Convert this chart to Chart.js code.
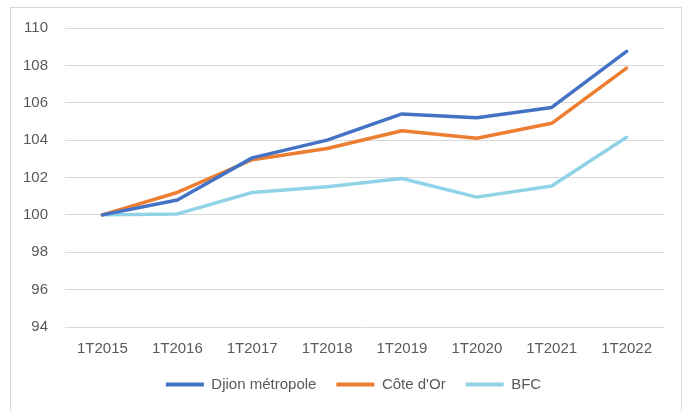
<!DOCTYPE html>
<html>
<head>
<meta charset="utf-8">
<script src="https://cdn.jsdelivr.net/npm/chart.js@4"></script>
<style>
  html, body { margin: 0; padding: 0; background: #fff; }
  #cadre { position: absolute; left: 10px; top: 7px; width: 672px; height: 420px; border: 1px solid #d9d9d9; border-bottom: none; box-sizing: border-box; }
  #zone { position: absolute; left: 0; top: 0; width: 689px; height: 411px; }
</style>
</head>
<body>
<div id="cadre"></div>
<div id="zone"><canvas id="graphique" width="689" height="411"></canvas></div>
<script>
// Trimestres
const trimestres = ["1T2015", "1T2016", "1T2017", "1T2018", "1T2019", "1T2020", "1T2021", "1T2022"]

// Indices (base 100 au 1T2015)
const dijonMetropole = [100, 100.8, 103.05, 104.0, 105.4, 105.2, 105.75, 108.75]
const coteDOr = [100, 101.2, 102.95, 103.55, 104.5, 104.1, 104.9, 107.85]
const bfc = [100, 100.05, 101.2, 101.5, 101.95, 100.95, 101.55, 104.15]

const police = "'Liberation Sans', Arial, sans-serif"
const grisTexte = "#595959"

function serie(nom, valeurs, couleur) {
  return {
    label: nom,
    data: valeurs,
    borderColor: couleur,
    backgroundColor: couleur,
    borderWidth: 3.5,
    pointRadius: 0,
    pointHoverRadius: 0,
    tension: 0,
    borderCapStyle: "round",
    borderJoinStyle: "round"
  }
}

const ctx = document.getElementById("graphique").getContext("2d")
const chart = new Chart(ctx, {
  type: "line",
  data: {
    labels: trimestres,
    datasets: [
      serie("Djion métropole", dijonMetropole, "#4472c4"),
      serie("Côte d'Or", coteDOr, "#ed7d31"),
      serie("BFC", bfc, "#91d3e6")
    ]
  },
  options: {
    responsive: false,
    animation: false,
    layout: { padding: { left: 18, right: 0, top: 28, bottom: 9 } },
    plugins: {
      tooltip: { enabled: false },
      legend: {
        position: "bottom",
        labels: {
          boxWidth: 38,
          boxHeight: 4,
          padding: 20,
          color: grisTexte,
          font: { family: police, size: 15 },
          generateLabels: (c) => Chart.defaults.plugins.legend.labels.generateLabels(c).map(l => ({ ...l, lineWidth: 0 }))
        }
      }
    },
    scales: {
      x: {
        offset: true,
        grid: { display: false, drawTicks: false },
        border: { display: false },
        ticks: { color: grisTexte, font: { family: police, size: 15 }, padding: 13, maxRotation: 0 },
        afterFit: (s) => { s.height = 30 }
      },
      y: {
        min: 94,
        max: 110,
        ticks: { stepSize: 2, color: grisTexte, font: { family: police, size: 15 }, padding: 17 },
        grid: { color: "#d9d9d9", lineWidth: 1, drawTicks: false },
        border: { display: false },
        afterFit: (s) => { s.width = 47 }
      },
      // marge à droite de la zone de tracé
      droite: {
        position: "right",
        min: 94,
        max: 110,
        ticks: { display: false },
        grid: { display: false, drawTicks: false },
        border: { display: false },
        afterFit: (s) => { s.width = 25 }
      }
    }
  }
})
</script>
</body>
</html>
